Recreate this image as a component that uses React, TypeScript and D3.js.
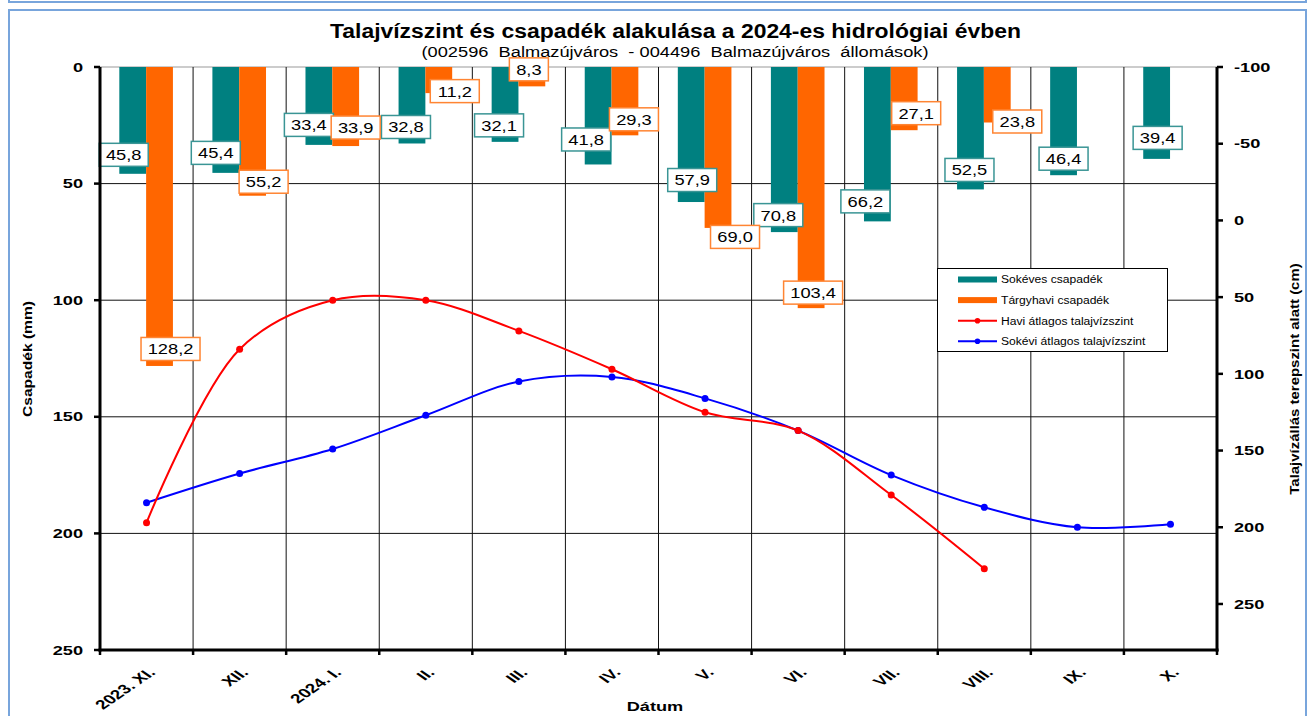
import React from 'react';
import * as d3 from 'd3';

const months = ['2023. XI.', 'XII.', '2024. I.', 'II.', 'III.', 'IV.', 'V.', 'VI.', 'VII.', 'VIII.', 'IX.', 'X.'];
const longTermRain = [45.8, 45.4, 33.4, 32.8, 32.1, 41.8, 57.9, 70.8, 66.2, 52.5, 46.4, 39.4];
const monthRain = [128.2, 55.2, 33.9, 11.2, 8.3, 29.3, 69.0, 103.4, 27.1, 23.8, null, null];
const monthlyWater = [197, 84, 52, 52, 72, 97, 125, 137, 179, 227, null, null];
const longTermWater = [184, 165, 149, 127, 105, 102, 116, 137, 166, 187, 200, 198];
const leftTicks = [0, 50, 100, 150, 200, 250];
const rightTicks = [-100, -50, 0, 50, 100, 150, 200, 250];

// label nudges (px) relative to bar end, like the hand-moved excel labels
const tealNudge = [[-9, -19], [-10, -20], [-10, -20], [-6, -16.5], [-6, -16.5], [-12, -25], [1, -22], [-6, -17], [-12, -20], [-1, -19.5], [0, -16.5], [1, -21]];
const orangeNudge = [[11, -17], [11, -14], [10, -18.5], [16, -2], [-3, -17], [9, -16], [17, 9], [2, -15.5], [12, -17], [20, -1]];

const TEAL = '#008080';
const ORANGE = '#ff6600';
const FONT = 'Arial, "Liberation Sans", sans-serif';

const left = 100, right = 1217, top = 67, bottom = 650;

const fmt = (v: number) => v.toFixed(1).replace('.', ',');

const ValueLabel = ({ x, y, v, color }: { x: number; y: number; v: number; color: string }) => {
  const s = fmt(v);
  const w = 10 * s.length + 9;
  return (
    <g transform={`translate(${x},${y})`}>
      <rect x={-w / 2} y={-11.5} width={w} height={23} fill="#fff" stroke={color} strokeWidth={1.5} />
      <text transform="scale(1.22,1)" textAnchor="middle" dy="0.36em" fontSize={15} fontFamily={FONT} fill="#000">{s}</text>
    </g>
  );
};

const App = () => {
  const x = d3.scaleBand<string>().domain(months).range([left, right]);
  const bw = x.bandwidth();
  const yL = d3.scaleLinear().domain([0, 250]).range([top, bottom]);
  const yR = d3.scaleLinear().domain([-100, 280]).range([top, bottom]);
  const cx = (i: number) => (x(months[i]) as number) + bw / 2;
  const barW = bw * 0.288;
  const tealX = (i: number) => (x(months[i]) as number) + bw * 0.2075;
  const orangeX = (i: number) => tealX(i) + barW;

  const line = d3.line<number | null>()
    .defined(d => d != null)
    .x((_, i) => cx(i))
    .y(d => yR(d as number))
    .curve(d3.curveCatmullRom.alpha(0.5));

  return (
    <svg width={1311} height={716} style={{ position: 'absolute', left: 0, top: 0, background: '#fff' }}>
      <rect x={9} y={-20} width={1297} height={22} fill="none" stroke="#78a5dc" strokeWidth={2} />
      <rect x={9} y={10} width={1297} height={720} fill="#fff" stroke="#78a5dc" strokeWidth={2} />

      <text x={675.5} y={38} textAnchor="middle" textLength={691} lengthAdjust="spacingAndGlyphs"
        fontSize={19.5} fontWeight="bold" fontFamily={FONT}>
        Talajvízszint és csapadék alakulása a 2024-es hidrológiai évben
      </text>
      <text x={675} y={57} textAnchor="middle" textLength={507} lengthAdjust="spacingAndGlyphs"
        fontSize={14} fontFamily={FONT} style={{ whiteSpace: 'pre' }}>
        {'(002596  Balmazújváros  - 004496  Balmazújváros  állomások)'}
      </text>

      {/* grid */}
      <line x1={left} x2={right} y1={top} y2={top} stroke="#999" strokeWidth={1} />
      {leftTicks.slice(1, -1).map(t => (
        <line key={'h' + t} x1={left} x2={right} y1={yL(t)} y2={yL(t)} stroke="#111" strokeWidth={1} />
      ))}
      {months.slice(1).map(m => (
        <line key={'v' + m} x1={x(m)} x2={x(m)} y1={top} y2={bottom} stroke="#111" strokeWidth={1} />
      ))}

      {/* bars */}
      {longTermRain.map((v, i) => (
        <rect key={'t' + i} x={tealX(i)} y={yL(0)} width={barW} height={yL(v) - yL(0)} fill={TEAL} />
      ))}
      {monthRain.map((v, i) => v == null ? null : (
        <rect key={'o' + i} x={orangeX(i)} y={yL(0)} width={barW} height={yL(v) - yL(0)} fill={ORANGE} />
      ))}

      {/* lines */}
      <path d={line(longTermWater) || ''} fill="none" stroke="#0000ff" strokeWidth={2} />
      {longTermWater.map((v, i) => <circle key={'bd' + i} cx={cx(i)} cy={yR(v)} r={3.5} fill="#0000ff" />)}
      <path d={line(monthlyWater) || ''} fill="none" stroke="#ff0000" strokeWidth={2} />
      {monthlyWater.map((v, i) => v == null ? null : <circle key={'rd' + i} cx={cx(i)} cy={yR(v)} r={3.5} fill="#ff0000" />)}

      {/* labels */}
      {longTermRain.map((v, i) => (
        <ValueLabel key={'tl' + i} x={tealX(i) + barW / 2 + tealNudge[i][0]} y={yL(v) + tealNudge[i][1]} v={v} color="#3a9595" />
      ))}
      {monthRain.map((v, i) => v == null ? null : (
        <ValueLabel key={'ol' + i} x={orangeX(i) + barW / 2 + orangeNudge[i][0]} y={yL(v) + orangeNudge[i][1]} v={v} color="#ff8533" />
      ))}

      {/* axes */}
      <line x1={left} x2={left} y1={top} y2={bottom + 1.5} stroke="#000" strokeWidth={3} />
      <line x1={right} x2={right} y1={top} y2={bottom + 1.5} stroke="#000" strokeWidth={3} />
      <line x1={left - 1.5} x2={right + 1.5} y1={bottom} y2={bottom} stroke="#000" strokeWidth={3} />
      {leftTicks.map(t => (
        <g key={'lt' + t}>
          <line x1={left - 6} x2={left} y1={yL(t)} y2={yL(t)} stroke="#000" strokeWidth={2.5} />
          <text transform={`translate(83,${yL(t)}) scale(1.4,1)`} textAnchor="end" dy="0.36em"
            fontSize={13} fontWeight="bold" fontFamily={FONT}>{t}</text>
        </g>
      ))}
      {rightTicks.map(t => (
        <g key={'rt' + t}>
          <line x1={right} x2={right + 6} y1={yR(t)} y2={yR(t)} stroke="#000" strokeWidth={2.5} />
          <text transform={`translate(1234,${yR(t)}) scale(1.4,1)`} textAnchor="start" dy="0.36em"
            fontSize={13} fontWeight="bold" fontFamily={FONT}>{t}</text>
        </g>
      ))}
      {months.map((m, i) => (
        <g key={'xt' + m}>
          <line x1={x(m)} x2={x(m)} y1={bottom} y2={bottom + 5} stroke="#000" strokeWidth={2.5} />
          <text transform={`translate(${cx(i) + 5},${bottom + 20}) scale(1.45,1) rotate(-45)`} textAnchor="end" dy="0.36em"
            fontSize={13} fontWeight="bold" fontFamily={FONT}>{m}</text>
        </g>
      ))}
      <line x1={right} x2={right} y1={bottom} y2={bottom + 5} stroke="#000" strokeWidth={2.5} />

      <text transform="translate(655,711) scale(1.4,1)" textAnchor="middle" fontSize={13} fontWeight="bold" fontFamily={FONT}>Dátum</text>
      <text transform="translate(32,359) rotate(-90) scale(1.2,1)" textAnchor="middle" fontSize={13} fontWeight="bold" fontFamily={FONT}>Csapadék (mm)</text>
      <text transform="translate(1299,379) rotate(-90) scale(1.15,1)" textAnchor="middle" fontSize={13} fontWeight="bold" fontFamily={FONT}>Talajvízállás terepszint alatt (cm)</text>

      {/* legend */}
      <g>
        <rect x={937.5} y={268.5} width={230} height={83} fill="#fff" stroke="#000" strokeWidth={1} />
        {[
          { name: 'Sokéves csapadék', color: TEAL, kind: 'bar' },
          { name: 'Tárgyhavi csapadék', color: ORANGE, kind: 'bar' },
          { name: 'Havi átlagos talajvízszint', color: '#ff0000', kind: 'line' },
          { name: 'Sokévi átlagos talajvízszint', color: '#0000ff', kind: 'line' },
        ].map((d, i) => {
          const yy = 279.5 + i * 20.6;
          return (
            <g key={d.name}>
              {d.kind === 'bar'
                ? <rect x={958} y={yy - 3} width={39} height={6} fill={d.color} />
                : <g>
                  <line x1={958} x2={997} y1={yy} y2={yy} stroke={d.color} strokeWidth={2} />
                  <circle cx={977.5} cy={yy} r={2.8} fill={d.color} />
                </g>}
              <text transform={`translate(1001,${yy}) scale(1.1,1)`} dy="0.36em" fontSize={11} fontFamily={FONT}>{d.name}</text>
            </g>
          );
        })}
      </g>
    </svg>
  );
};

export default App;
